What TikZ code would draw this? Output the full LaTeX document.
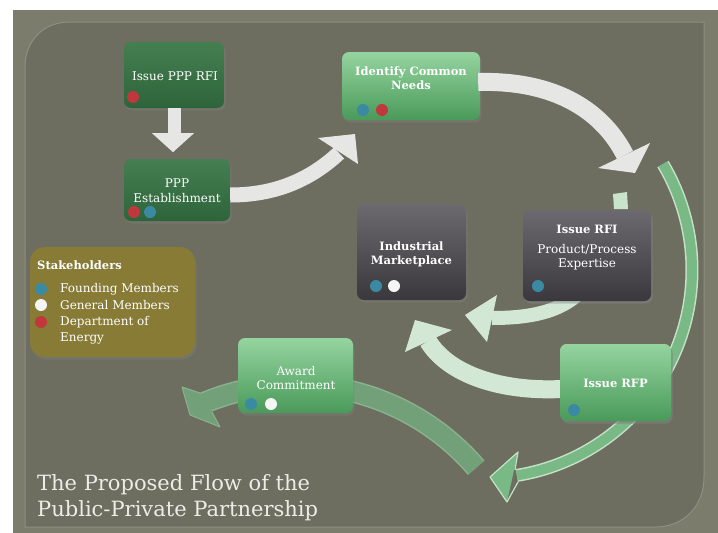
\documentclass[tikz,border=0pt]{standalone}
\usepackage{fontspec}
\setmainfont{DejaVu Serif}
\usetikzlibrary{calc,shadows}
\definecolor{outerbg}{HTML}{7B7C6C}
\definecolor{panel}{HTML}{6D6E5F}
\definecolor{panelline}{HTML}{8E8F80}
\definecolor{dkgreenT}{HTML}{447F51}
\definecolor{dkgreenB}{HTML}{2E643A}
\definecolor{ltgreenT}{HTML}{95D49F}
\definecolor{ltgreenB}{HTML}{4A9A5A}
\definecolor{grayT}{HTML}{6C6A6E}
\definecolor{grayB}{HTML}{3A383C}
\definecolor{olive}{HTML}{877B36}
\definecolor{dotblue}{HTML}{3B8AA3}
\definecolor{dotred}{HTML}{C0383C}
\definecolor{dotwhite}{HTML}{F5F5F5}
\definecolor{arrowwhite}{HTML}{E6E6E4}
\definecolor{mint}{HTML}{D2E8D4}
\definecolor{stubcol}{HTML}{C9E4CA}
\definecolor{arcgreen}{HTML}{79B985}
\definecolor{arcedge}{HTML}{C4E2C6}
\definecolor{fadegreen}{HTML}{72A078}
\definecolor{fadeedge}{HTML}{8AB28F}
\definecolor{titlecol}{HTML}{EDEDE8}
\begin{document}
\begin{tikzpicture}[x=1pt,y=-1pt,
  boxbase/.style={rounded corners=7pt, inner sep=0pt, draw=none,
    drop shadow={opacity=0.4, shadow xshift=1.5pt, shadow yshift=-2.5pt}},
  dkbox/.style={boxbase, top color=dkgreenT, bottom color=dkgreenB},
  ltbox/.style={boxbase, top color=ltgreenT, bottom color=ltgreenB},
  gybox/.style={boxbase, top color=grayT, bottom color=grayB},
  dot/.style={circle, inner sep=0pt, minimum size=12pt},
  txt/.style={text=white, font=\fontsize{12}{14.5}\selectfont, align=center, inner sep=0pt},
  btxt/.style={text=white, font=\fontsize{11.5}{14}\selectfont\bfseries, align=center, inner sep=0pt},
  ltxt/.style={text=white, font=\fontsize{12}{16}\selectfont, align=left, inner sep=0pt, anchor=west},
  titletxt/.style={text=titlecol, font=\fontsize{21}{26}\selectfont, inner sep=0pt, anchor=base west}
]
\useasboundingbox (0,0) rectangle (718,533);
% background
\fill[white] (0,0) rectangle (718,533);
\fill[outerbg] (13,10) rectangle (718,533);
\filldraw[fill=panel, draw=panelline, line width=1pt]
  (25,527) -- (25,67) .. controls (25,42) and (42,22) .. (70,22) -- (704,22)
  -- (704,477) .. controls (704,505) and (685,527) .. (655,527) -- cycle;

% boxes (nodes)
\node[dkbox, minimum width=100pt, minimum height=66pt] (ppprfi) at (174,75) {};
\node[dkbox, minimum width=106pt, minimum height=62pt] (est) at (177,190) {};
\node[ltbox, minimum width=138pt, minimum height=68pt] (needs) at (411,86) {};
\node[gybox, minimum width=128pt, minimum height=91pt] (rfi) at (587,255.5) {};
\node[gybox, minimum width=109pt, minimum height=96pt] (mkt) at (411.5,252) {};
\node[boxbase, rounded corners=15pt, fill=olive, minimum width=165pt, minimum height=110pt] (stake) at (112.5,302) {};

% faded lower arc (behind award box)
\draw[fadeedge, line width=22pt] plot[domain=-113:-40.6, samples=60, smooth] ({295.5+238*cos(\x)}, {622.6+238*sin(\x)});
\draw[fadegreen, line width=19pt] plot[domain=-113:-40.6, samples=60, smooth] ({295.5+238*cos(\x)}, {622.6+238*sin(\x)});
\coordinate (fadeA) at (182,387);
\coordinate (fadeT) at (190,415);
\coordinate (fadeB) at (220,427);
\fill[fadegreen] (200,393) -- (fadeA) -- (fadeT) -- (fadeB) -- (212,412) -- cycle;
\draw[fadeedge, line width=1pt, line join=round] (200,393) -- (fadeA) -- (fadeT) -- (fadeB) -- (212,412);

% right green arc (behind RFP box)
\draw[arcedge, line width=13pt] plot[domain=-30.6:80.9, samples=60, smooth] ({484+208*cos(\x)}, {270+208*sin(\x)});
\draw[arcgreen, line width=10pt] plot[domain=-30.6:80.9, samples=60, smooth] ({484+208*cos(\x)}, {270+208*sin(\x)});
\coordinate (arcA) at (518,452);
\coordinate (arcT) at (490,477);
\coordinate (arcB) at (507,502);
\fill[arcgreen] (arcA) -- (arcT) -- (arcB) -- cycle;
\draw[arcedge, line width=1.2pt, line join=round] (515,470) -- (arcA) -- (arcT) -- (arcB) -- (518,482);

\node[ltbox, minimum width=111pt, minimum height=77pt] (rfp) at (615.5,382.5) {};
\node[ltbox, minimum width=115pt, minimum height=75pt] (award) at (295.5,375.5) {};

% small stub above Issue RFI
\fill[stubcol] (613,194) -- (627,192) -- (628,209) -- (614,209) -- cycle;

% white arrow: Issue PPP RFI -> PPP Establishment
\fill[arrowwhite] ($(ppprfi.south)+(-6.5,0)$) rectangle ($(ppprfi.south)+(6.5,25)$);
\fill[arrowwhite] ($(ppprfi.south)+(-22,25)$) -- ($(ppprfi.south)+(20,25)$) -- ($(ppprfi.south)+(-1,44)$) -- cycle;

% white arrow: PPP Establishment -> Identify Common Needs
\coordinate (w1end) at (339,153);
\draw[arrowwhite, line width=15pt] ($(est.east)+(0,5)$) .. controls (275,195) and (310,180) .. (w1end);
\fill[arrowwhite] (318,138) -- (355,134) -- (358,164) -- cycle;

% white arrow: Identify Common Needs -> Issue RFI
\coordinate (w2end) at (625,155);
\draw[arrowwhite, line width=18pt] ($(needs.east)+(-2,-4)$) .. controls (557,80) and (603,112) .. (w2end);
\fill[arrowwhite] (598,168) -- (635,173) -- (650,143) -- cycle;

% mint arrow: Issue RFI -> Industrial Marketplace
\coordinate (m1end) at (492,318);
\draw[mint, line width=14pt] ($(rfi.south)+(-7,-9)$) .. controls (560,312) and (530,318) .. (m1end);
\fill[mint] (497,295) -- (465,315) -- (487,342) -- cycle;

% mint arrow: Issue RFP -> Industrial Marketplace
\coordinate (m2end) at (428,341);
\draw[mint, line width=18pt] ($(rfp.west)+(2,6.5)$) .. controls (500,392) and (448,374) .. (m2end);
\fill[mint] (405,352) -- (415,320) -- (452,330) -- cycle;

% redraw boxes on top of arrows where needed
\node[gybox, minimum width=128pt, minimum height=91pt] (rfi2) at (587,255.5) {};
\node[ltbox, minimum width=111pt, minimum height=77pt] (rfp2) at (615.5,382.5) {};

% texts
\node[txt] (t-ppprfi) at (175,76) {Issue PPP RFI};
\node[txt] (t-est) at (177,190.5) {PPP\\Establishment};
\node[btxt] (t-needs) at (411,78) {Identify Common\\Needs};
\node[btxt] (t-rfi1) at (587,229) {Issue RFI};
\node[txt] (t-rfi2) at (587,257) {Product/Process\\Expertise};
\node[btxt] (t-mkt) at (411.5,254.5) {Industrial\\Marketplace};
\node[btxt] (t-rfp) at (615.5,383) {Issue RFP};
\node[txt] (t-award) at (296,378) {Award\\Commitment};

% dots
\node[dot, fill=dotred] (d1) at (133,97) {};
\node[dot, fill=dotred] (d2) at (134,212) {};
\node[dot, fill=dotblue] (d3) at (150,212) {};
\node[dot, fill=dotblue] (d4) at (363,110) {};
\node[dot, fill=dotred] (d5) at (382,110) {};
\node[dot, fill=dotblue] (d6) at (538,286) {};
\node[dot, fill=dotblue] (d7) at (376,286) {};
\node[dot, fill=dotwhite] (d8) at (394,286) {};
\node[dot, fill=dotblue] (d9) at (574,410) {};
\node[dot, fill=dotblue] (d10) at (251,404) {};
\node[dot, fill=dotwhite] (d11) at (271,404) {};

% stakeholders legend
\node[btxt, anchor=west, font=\fontsize{11.5}{13}\selectfont\bfseries] (t-st) at (37,265) {Stakeholders};
\node[dot, fill=dotblue] (l1) at (41,289) {};
\node[dot, fill=dotwhite] (l2) at (41,305) {};
\node[dot, fill=dotred] (l3) at (41,322) {};
\node[ltxt] (t-l1) at (60,289) {Founding Members};
\node[ltxt] (t-l2) at (60,305) {General Members};
\node[ltxt] (t-l3) at (60,330) {Department of\\Energy};

% title
\node[titletxt] (title1) at (37,490) {The Proposed Flow of the};
\node[titletxt] (title2) at (37,516) {Public-Private Partnership};
\end{tikzpicture}
\end{document}
